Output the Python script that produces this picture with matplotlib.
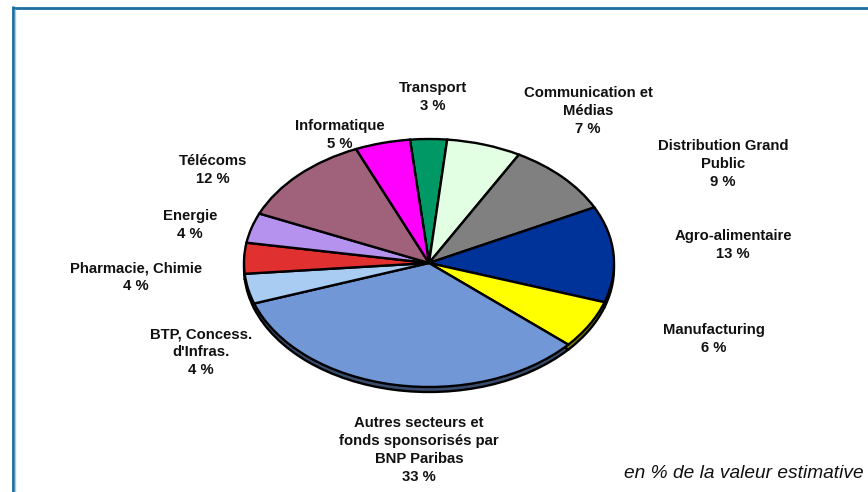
import matplotlib
matplotlib.use("Agg")
import matplotlib.pyplot as plt
from matplotlib.lines import Line2D

W, H = 868, 492
plt.rcParams['font.family'] = ['Liberation Sans', 'DejaVu Sans']

categories = ["Transport", "Communication et\nMédias", "Distribution Grand\nPublic",
              "Agro-alimentaire", "Manufacturing",
              "Autres secteurs et\nfonds sponsorisés par\nBNP Paribas",
              "BTP, Concess.\nd'Infras.", "Pharmacie, Chimie", "Energie",
              "Télécoms", "Informatique"]
shown_percent = [3, 7, 9, 13, 6, 33, 4, 4, 4, 12, 5]
slice_values = [3.2, 6.5, 9.5, 12.5, 6.3, 33.2, 3.9, 4.0, 3.9, 12.0, 4.8]
colors = ["#009966", "#E3FFE3", "#808080", "#003399", "#FFFF00", "#7297D6",
          "#A9CCF2", "#E03030", "#B592EE", "#A0627A", "#FF00FF"]
shadow_colors = ["#004D33", "#717F71", "#404040", "#001A4D", "#808000", "#394C6B",
                 "#556679", "#701818", "#5B4977", "#50313D", "#800080"]
label_xy = [(433, 97), (588, 111), (723, 164), (733, 245), (714, 339),
            (419, 450), (201, 352), (136, 277), (190, 225), (213, 170), (340, 135)]

cx, cy, rx, ry = 429, 263, 185, 124
shadow_px = 5

fig = plt.figure(figsize=(W / 100, H / 100), dpi=100, facecolor="white")
ax = fig.add_axes([0, 0, 1, 1])

ax.pie(slice_values, colors=shadow_colors, startangle=95.9, counterclock=False,
       center=(0, -shadow_px / ry), wedgeprops=dict(edgecolor="black", linewidth=1.7))
ax.pie(slice_values, colors=colors, startangle=95.9, counterclock=False,
       wedgeprops=dict(edgecolor="black", linewidth=1.7))
ax.set_aspect("auto")
ax.set_xlim(-cx / rx, (W - cx) / rx)
ax.set_ylim((cy - H) / ry, cy / ry)
ax.set_axis_off()

for name, pct, (x, y) in zip(categories, shown_percent, label_xy):
    fig.text(x / W, 1 - y / H, f"{name}\n{pct} %", ha="center", va="center",
             fontsize=10.7, fontweight="bold", color="#111111", linespacing=1.35)

fig.text(864 / W, 1 - 474 / H, "en % de la valeur estimative", ha="right", va="center",
         fontsize=13.8, fontstyle="italic", color="#111111")

frame = "#1B6E9E"
fig.add_artist(Line2D([13 / W, 13 / W], [0, 1 - 6 / H], color=frame, lw=2.0, solid_capstyle="butt"))
fig.add_artist(Line2D([12 / W, 1], [1 - 7.5 / H, 1 - 7.5 / H], color=frame, lw=2.0, solid_capstyle="butt"))
fig.add_artist(Line2D([15 / W, 15 / W], [0, 1 - 9 / H], color="#A9CCE8", lw=1.0, solid_capstyle="butt"))
fig.savefig("out.png", dpi=100, facecolor="white")
